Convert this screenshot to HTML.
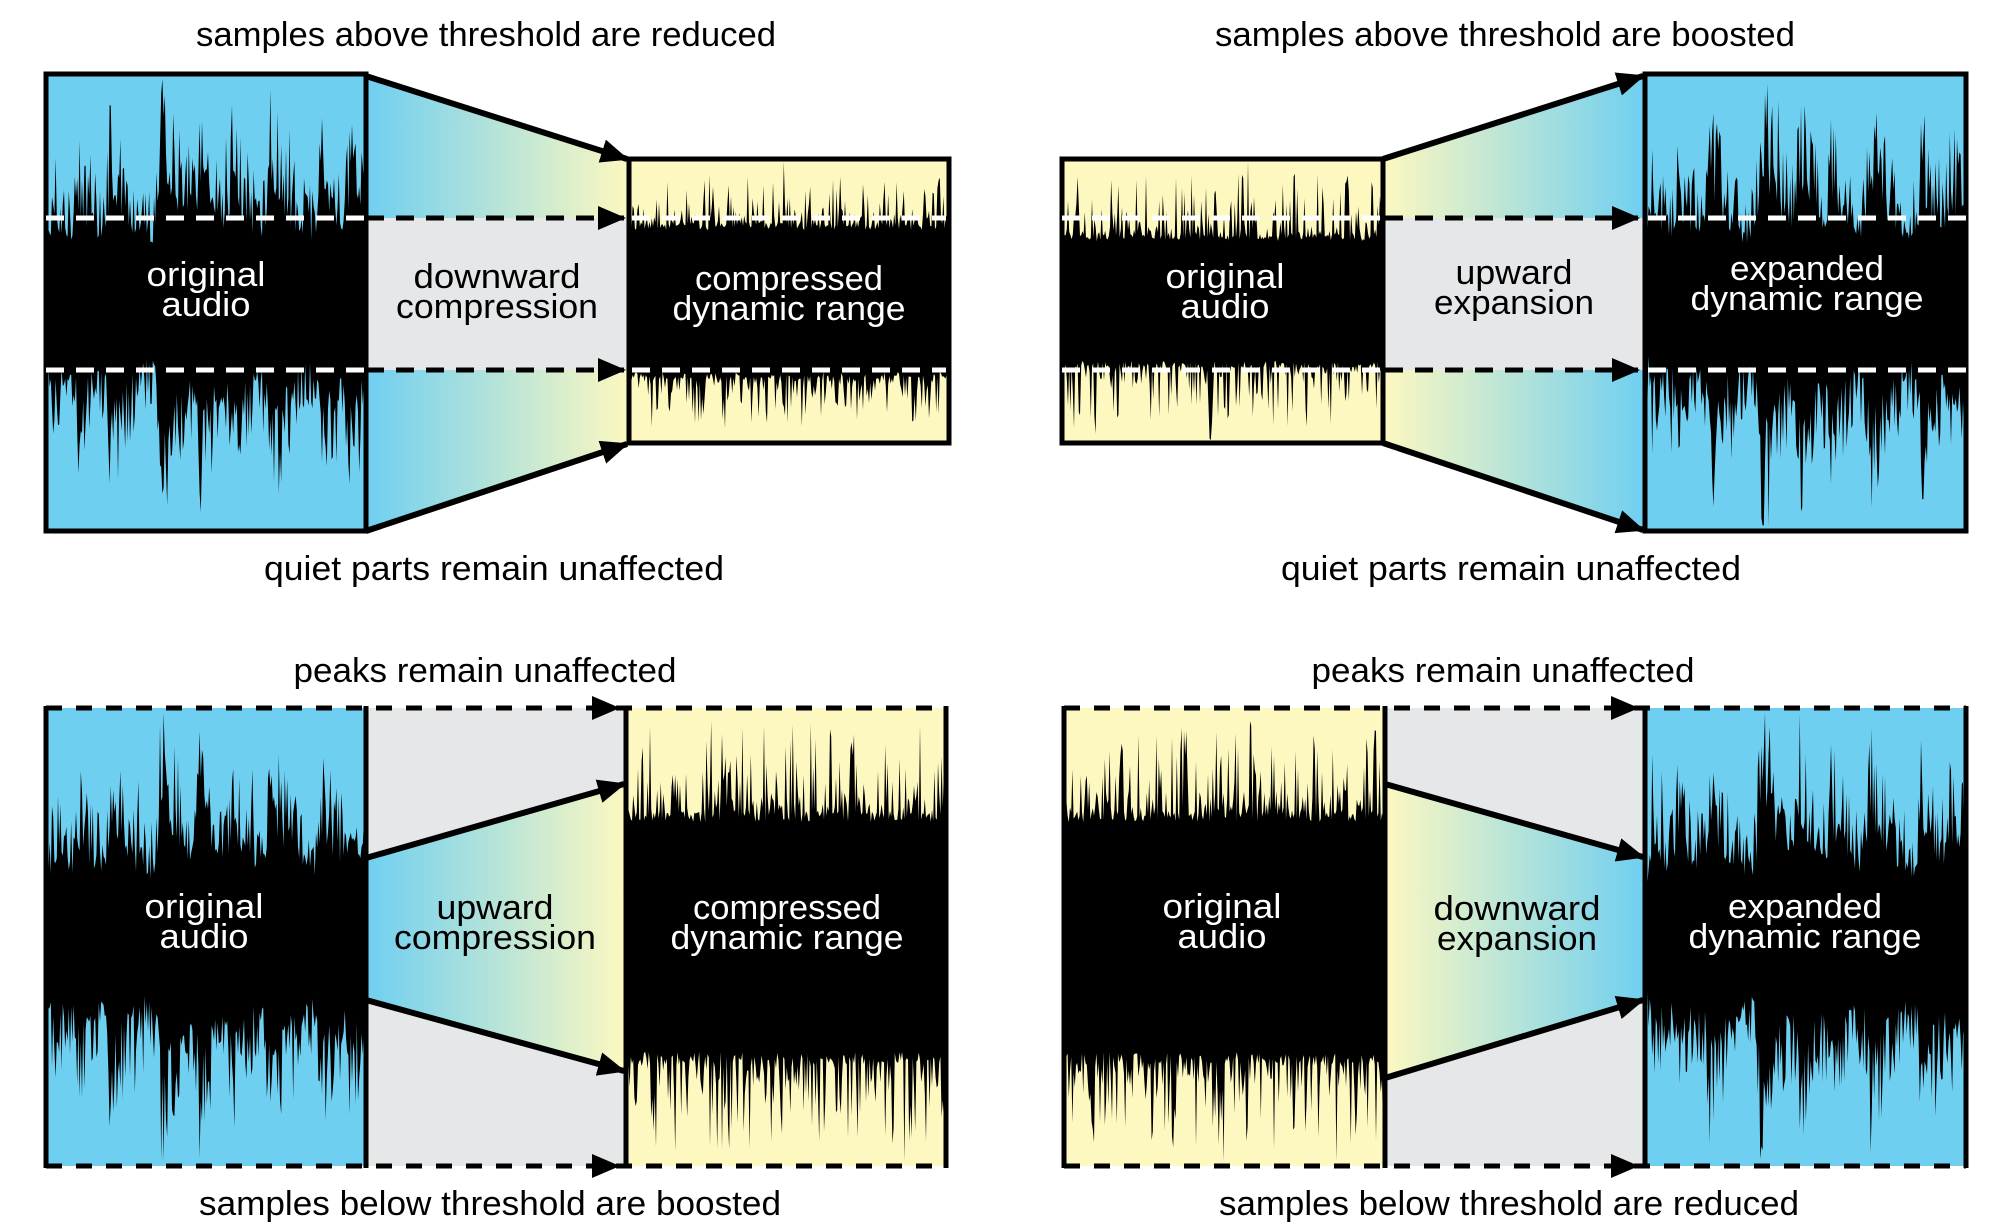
<!DOCTYPE html>
<html><head><meta charset="utf-8">
<style>
html,body{margin:0;padding:0;background:#fff;}
svg{display:block;}
text{font-family:"Liberation Sans Narrow","Liberation Sans",sans-serif;font-size:34px;}
.w{fill:#fff;} .k{fill:#000;}
</style></head><body>
<svg id="s" width="2000" height="1232" viewBox="0 0 2000 1232" xmlns="http://www.w3.org/2000/svg">
<defs>
<linearGradient id="by" x1="0" x2="1" y1="0" y2="0"><stop offset="0" stop-color="#6fcff1"/><stop offset="1" stop-color="#fdf8c0"/></linearGradient>
<linearGradient id="yb" x1="0" x2="1" y1="0" y2="0"><stop offset="0" stop-color="#fdf8c0"/><stop offset="1" stop-color="#6fcff1"/></linearGradient>
<marker id="ah" markerUnits="userSpaceOnUse" markerWidth="30" markerHeight="30" refX="26" refY="12" orient="auto"><path d="M0,0 L28,12 L0,24 Z" fill="#000"/></marker>
<clipPath id="c1"><rect x="46" y="74" width="320" height="457"/></clipPath>
<clipPath id="c2"><rect x="629" y="159" width="320" height="284"/></clipPath>
<clipPath id="c3"><rect x="1062" y="159" width="321" height="284"/></clipPath>
<clipPath id="c4"><rect x="1645" y="74" width="321" height="457"/></clipPath>
<clipPath id="c5"><rect x="46" y="708" width="320" height="458"/></clipPath>
<clipPath id="c6"><rect x="626" y="708" width="320" height="458"/></clipPath>
<clipPath id="c7"><rect x="1064" y="708" width="321" height="458"/></clipPath>
<clipPath id="c8"><rect x="1645" y="708" width="321" height="458"/></clipPath>
</defs>

<!-- ===== TOP LEFT ===== -->
<polygon points="366,76 629,159 629,443 366,531" fill="url(#by)"/>
<rect x="366" y="218" width="263" height="152" fill="#e6e7e9"/>
<rect x="46" y="74" width="320" height="457" fill="#6fcff1"/>
<rect x="629" y="159" width="320" height="284" fill="#fdf8c0"/>
<g id="w1" clip-path="url(#c1)"></g>
<g id="w2" clip-path="url(#c2)"></g>
<rect x="46" y="74" width="320" height="457" fill="none" stroke="#000" stroke-width="5"/>
<rect x="629" y="159" width="320" height="284" fill="none" stroke="#000" stroke-width="5"/>
<line x1="366" y1="76" x2="627" y2="159" stroke="#000" stroke-width="6" marker-end="url(#ah)"/>
<line x1="366" y1="531" x2="627" y2="444" stroke="#000" stroke-width="6" marker-end="url(#ah)"/>
<line x1="46" y1="218" x2="366" y2="218" stroke="#fff" stroke-width="5" stroke-dasharray="18,12"/>
<line x1="46" y1="370" x2="366" y2="370" stroke="#fff" stroke-width="5" stroke-dasharray="18,12"/>
<line x1="632" y1="218" x2="946" y2="218" stroke="#fff" stroke-width="5" stroke-dasharray="18,12"/>
<line x1="632" y1="370" x2="946" y2="370" stroke="#fff" stroke-width="5" stroke-dasharray="18,12"/>
<line x1="366" y1="218" x2="624" y2="218" stroke="#000" stroke-width="5" stroke-dasharray="18,12" marker-end="url(#ah)"/>
<line x1="366" y1="370" x2="624" y2="370" stroke="#000" stroke-width="5" stroke-dasharray="18,12" marker-end="url(#ah)"/>
<text x="486" y="46" text-anchor="middle" textLength="580" lengthAdjust="spacingAndGlyphs">samples above threshold are reduced</text>
<text x="494" y="580" text-anchor="middle" textLength="460" lengthAdjust="spacingAndGlyphs">quiet parts remain unaffected</text>
<text class="w" x="206" y="286" text-anchor="middle" textLength="119" lengthAdjust="spacingAndGlyphs">original</text>
<text class="w" x="206" y="316" text-anchor="middle" textLength="89" lengthAdjust="spacingAndGlyphs">audio</text>
<text x="497" y="288" text-anchor="middle" textLength="167" lengthAdjust="spacingAndGlyphs">downward</text>
<text x="497" y="318" text-anchor="middle" textLength="202" lengthAdjust="spacingAndGlyphs">compression</text>
<text class="w" x="789" y="290" text-anchor="middle" textLength="188" lengthAdjust="spacingAndGlyphs">compressed</text>
<text class="w" x="789" y="320" text-anchor="middle" textLength="233" lengthAdjust="spacingAndGlyphs">dynamic range</text>

<!-- ===== TOP RIGHT ===== -->
<polygon points="1383,159 1645,76 1645,531 1383,443" fill="url(#yb)"/>
<rect x="1383" y="218" width="262" height="152" fill="#e6e7e9"/>
<rect x="1062" y="159" width="321" height="284" fill="#fdf8c0"/>
<rect x="1645" y="74" width="321" height="457" fill="#6fcff1"/>
<g id="w3" clip-path="url(#c3)"></g>
<g id="w4" clip-path="url(#c4)"></g>
<rect x="1062" y="159" width="321" height="284" fill="none" stroke="#000" stroke-width="5"/>
<rect x="1645" y="74" width="321" height="457" fill="none" stroke="#000" stroke-width="5"/>
<line x1="1383" y1="159" x2="1643" y2="76" stroke="#000" stroke-width="6" marker-end="url(#ah)"/>
<line x1="1383" y1="443" x2="1643" y2="530" stroke="#000" stroke-width="6" marker-end="url(#ah)"/>
<line x1="1062" y1="218" x2="1383" y2="218" stroke="#fff" stroke-width="5" stroke-dasharray="18,12"/>
<line x1="1062" y1="370" x2="1383" y2="370" stroke="#fff" stroke-width="5" stroke-dasharray="18,12"/>
<line x1="1648" y1="218" x2="1966" y2="218" stroke="#fff" stroke-width="5" stroke-dasharray="18,12"/>
<line x1="1648" y1="370" x2="1966" y2="370" stroke="#fff" stroke-width="5" stroke-dasharray="18,12"/>
<line x1="1385" y1="218" x2="1638" y2="218" stroke="#000" stroke-width="5" stroke-dasharray="18,12" marker-end="url(#ah)"/>
<line x1="1385" y1="370" x2="1638" y2="370" stroke="#000" stroke-width="5" stroke-dasharray="18,12" marker-end="url(#ah)"/>
<text x="1505" y="46" text-anchor="middle" textLength="580" lengthAdjust="spacingAndGlyphs">samples above threshold are boosted</text>
<text x="1511" y="580" text-anchor="middle" textLength="460" lengthAdjust="spacingAndGlyphs">quiet parts remain unaffected</text>
<text class="w" x="1225" y="288" text-anchor="middle" textLength="119" lengthAdjust="spacingAndGlyphs">original</text>
<text class="w" x="1225" y="318" text-anchor="middle" textLength="89" lengthAdjust="spacingAndGlyphs">audio</text>
<text x="1514" y="284" text-anchor="middle" textLength="117" lengthAdjust="spacingAndGlyphs">upward</text>
<text x="1514" y="314" text-anchor="middle" textLength="160" lengthAdjust="spacingAndGlyphs">expansion</text>
<text class="w" x="1807" y="280" text-anchor="middle" textLength="154" lengthAdjust="spacingAndGlyphs">expanded</text>
<text class="w" x="1807" y="310" text-anchor="middle" textLength="233" lengthAdjust="spacingAndGlyphs">dynamic range</text>

<!-- ===== BOTTOM LEFT ===== -->
<rect x="366" y="708" width="260" height="458" fill="#e6e7e9"/>
<polygon points="366,858 626,783 626,1072 366,1000" fill="url(#by)"/>
<rect x="46" y="708" width="320" height="458" fill="#6fcff1"/>
<rect x="626" y="708" width="320" height="458" fill="#fdf8c0"/>
<g id="w5" clip-path="url(#c5)"></g>
<g id="w6" clip-path="url(#c6)"></g>
<line x1="46" y1="706" x2="46" y2="1168" stroke="#000" stroke-width="5"/>
<line x1="366" y1="706" x2="366" y2="1168" stroke="#000" stroke-width="5"/>
<line x1="626" y1="706" x2="626" y2="1168" stroke="#000" stroke-width="5"/>
<line x1="946" y1="706" x2="946" y2="1168" stroke="#000" stroke-width="5"/>
<line x1="46" y1="708" x2="946" y2="708" stroke="#000" stroke-width="5" stroke-dasharray="16,14"/>
<line x1="46" y1="1166" x2="946" y2="1166" stroke="#000" stroke-width="5" stroke-dasharray="16,14"/>
<path d="M592,696 L620,708 L592,720 Z"/>
<path d="M592,1154 L620,1166 L592,1178 Z"/>
<line x1="366" y1="858" x2="624" y2="784" stroke="#000" stroke-width="6" marker-end="url(#ah)"/>
<line x1="366" y1="1000" x2="624" y2="1071" stroke="#000" stroke-width="6" marker-end="url(#ah)"/>
<text x="485" y="682" text-anchor="middle" textLength="383" lengthAdjust="spacingAndGlyphs">peaks remain unaffected</text>
<text x="490" y="1215" text-anchor="middle" textLength="582" lengthAdjust="spacingAndGlyphs">samples below threshold are boosted</text>
<text class="w" x="204" y="918" text-anchor="middle" textLength="119" lengthAdjust="spacingAndGlyphs">original</text>
<text class="w" x="204" y="948" text-anchor="middle" textLength="89" lengthAdjust="spacingAndGlyphs">audio</text>
<text x="495" y="919" text-anchor="middle" textLength="117" lengthAdjust="spacingAndGlyphs">upward</text>
<text x="495" y="949" text-anchor="middle" textLength="202" lengthAdjust="spacingAndGlyphs">compression</text>
<text class="w" x="787" y="919" text-anchor="middle" textLength="188" lengthAdjust="spacingAndGlyphs">compressed</text>
<text class="w" x="787" y="949" text-anchor="middle" textLength="233" lengthAdjust="spacingAndGlyphs">dynamic range</text>

<!-- ===== BOTTOM RIGHT ===== -->
<rect x="1385" y="708" width="260" height="458" fill="#e6e7e9"/>
<polygon points="1385,784 1645,857 1645,1000 1385,1078" fill="url(#yb)"/>
<rect x="1064" y="708" width="321" height="458" fill="#fdf8c0"/>
<rect x="1645" y="708" width="321" height="458" fill="#6fcff1"/>
<g id="w7" clip-path="url(#c7)"></g>
<g id="w8" clip-path="url(#c8)"></g>
<line x1="1064" y1="706" x2="1064" y2="1168" stroke="#000" stroke-width="5"/>
<line x1="1385" y1="706" x2="1385" y2="1168" stroke="#000" stroke-width="5"/>
<line x1="1645" y1="706" x2="1645" y2="1168" stroke="#000" stroke-width="5"/>
<line x1="1966" y1="706" x2="1966" y2="1168" stroke="#000" stroke-width="5"/>
<line x1="1064" y1="708" x2="1966" y2="708" stroke="#000" stroke-width="5" stroke-dasharray="16,14"/>
<line x1="1064" y1="1166" x2="1966" y2="1166" stroke="#000" stroke-width="5" stroke-dasharray="16,14"/>
<path d="M1611,696 L1639,708 L1611,720 Z"/>
<path d="M1611,1154 L1639,1166 L1611,1178 Z"/>
<line x1="1385" y1="784" x2="1643" y2="857" stroke="#000" stroke-width="6" marker-end="url(#ah)"/>
<line x1="1385" y1="1078" x2="1643" y2="1000" stroke="#000" stroke-width="6" marker-end="url(#ah)"/>
<text x="1503" y="682" text-anchor="middle" textLength="383" lengthAdjust="spacingAndGlyphs">peaks remain unaffected</text>
<text x="1509" y="1215" text-anchor="middle" textLength="580" lengthAdjust="spacingAndGlyphs">samples below threshold are reduced</text>
<text class="w" x="1222" y="918" text-anchor="middle" textLength="119" lengthAdjust="spacingAndGlyphs">original</text>
<text class="w" x="1222" y="948" text-anchor="middle" textLength="89" lengthAdjust="spacingAndGlyphs">audio</text>
<text x="1517" y="920" text-anchor="middle" textLength="167" lengthAdjust="spacingAndGlyphs">downward</text>
<text x="1517" y="950" text-anchor="middle" textLength="160" lengthAdjust="spacingAndGlyphs">expansion</text>
<text class="w" x="1805" y="918" text-anchor="middle" textLength="154" lengthAdjust="spacingAndGlyphs">expanded</text>
<text class="w" x="1805" y="948" text-anchor="middle" textLength="233" lengthAdjust="spacingAndGlyphs">dynamic range</text>
</svg>
<script>
(function(){
var NS="http://www.w3.org/2000/svg";
function rng(seed){return function(){seed|=0;seed=seed+0x6D2B79F5|0;var t=Math.imul(seed^seed>>>15,1|seed);t=t+Math.imul(t^t>>>7,61|t)^t;return((t^t>>>14)>>>0)/4294967296;};}
var bursts=[[.02,.35],[.1,.3],[.2,.45],[.36,.72],[.48,.45],[.58,.35],[.7,.55],[.86,.45],[.95,.3]];
function env(t){var e=0.33;for(var i=0;i<bursts.length;i++){var b=bursts[i],d=t-b[0];if(d<0)e+=b[1]*Math.exp(d/0.01);else e+=b[1]*Math.exp(-d/0.09);}return e;}
function add(id,d){var p=document.createElementNS(NS,"path");p.setAttribute("d",d);p.setAttribute("fill","#000");document.getElementById(id).appendChild(p);}
function build(id,x0,x1,cy,h,seed,ampf){
 var r=rng(seed),top=[],bot=[];
 for(var x=x0;x<=x1;x+=1.2){
  var t=(x-x0)/(x1-x0);
  var a1=Math.min(0.98,ampf(t,r)),a2=Math.min(0.98,ampf(t,r));
  top.push(x.toFixed(1)+","+(cy-a1*h).toFixed(1));
  bot.push(x.toFixed(1)+","+(cy+a2*h).toFixed(1));
 }
 add(id,"M"+top.join(" L")+" L"+bot.reverse().join(" L")+"Z");
}
function expf(t,r){var q=r();return env(t)*(0.5+0.5*Math.pow(q,1.5))+(r()<0.06?0.2*r():0);}
function compf(base,sp){return function(t,r){var q=r();return base+sp*q*q*q*q+(r()<0.05?0.2*r():0)+0.05*r();};}
build("w1",46,366,302,228,11,expf);
build("w2",629,949,301,142,22,compf(0.5,0.35));
build("w3",1062,1383,301,142,33,compf(0.42,0.45));
build("w4",1645,1966,302,228,44,expf);
build("w5",46,366,937,229,55,expf);
build("w6",626,946,937,229,66,compf(0.5,0.4));
build("w7",1064,1385,937,229,77,compf(0.5,0.4));
build("w8",1645,1966,937,229,88,expf);
})();
</script>
</body></html>
